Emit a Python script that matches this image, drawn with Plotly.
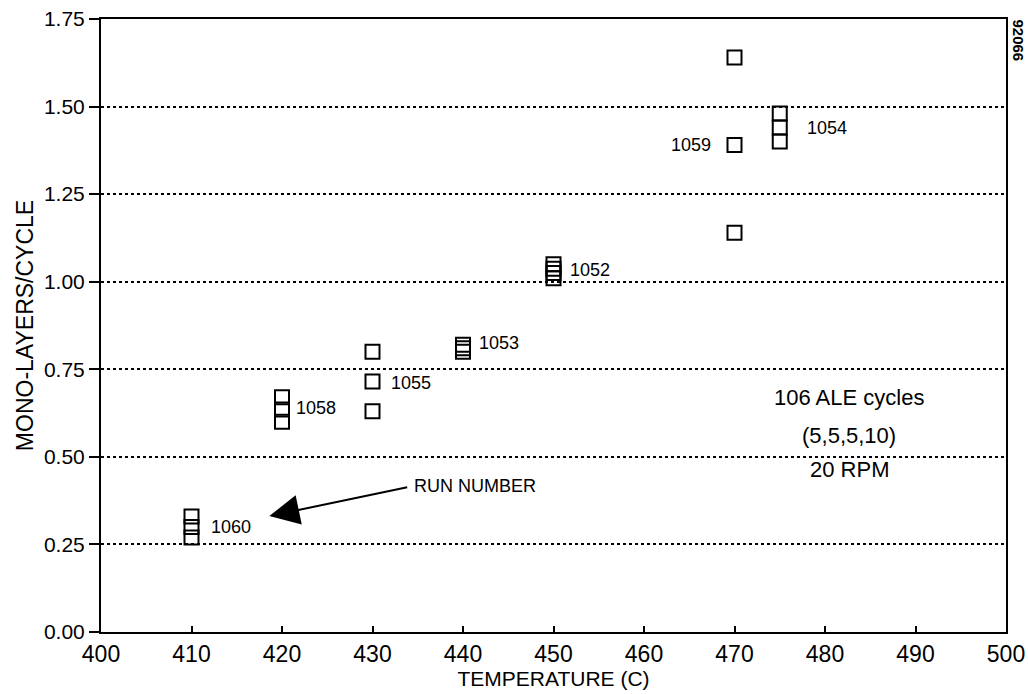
import plotly.graph_objects as go

# ---- data ----
run_1060_t = [410, 410, 410]
run_1060_v = [0.33, 0.30, 0.27]
run_1058_t = [420, 420, 420]
run_1058_v = [0.67, 0.635, 0.60]
run_1055_t = [430, 430, 430]
run_1055_v = [0.80, 0.715, 0.63]
run_1053_t = [440, 440, 440]
run_1053_v = [0.80, 0.81, 0.82]
run_1052_t = [450, 450, 450, 450]
run_1052_v = [1.01, 1.025, 1.037, 1.05]
run_1059_t = [470, 470, 470]
run_1059_v = [1.64, 1.39, 1.14]
run_1054_t = [475, 475, 475]
run_1054_v = [1.48, 1.44, 1.40]

runs = [
    ("1060", run_1060_t, run_1060_v),
    ("1058", run_1058_t, run_1058_v),
    ("1055", run_1055_t, run_1055_v),
    ("1053", run_1053_t, run_1053_v),
    ("1052", run_1052_t, run_1052_v),
    ("1059", run_1059_t, run_1059_v),
    ("1054", run_1054_t, run_1054_v),
]

# label placement: (y value, xanchor, xshift px)
label_place = {
    "1060": (0.30, "left", 17),
    "1058": (0.64, "left", 12),
    "1055": (0.71, "left", 16),
    "1053": (0.825, "left", 14),
    "1052": (1.033, "left", 14),
    "1059": (1.39, "right", -22),
    "1054": (1.44, "left", 25),
}

x_ticks = [400, 410, 420, 430, 440, 450, 460, 470, 480, 490, 500]
y_ticks = [0.00, 0.25, 0.50, 0.75, 1.00, 1.25, 1.50, 1.75]

FONT = "Liberation Sans, Arial, sans-serif"

fig = go.Figure()
for name, t, v in runs:
    fig.add_trace(go.Scatter(
        x=t, y=v, mode="markers", name=name, showlegend=False,
        marker=dict(symbol="square-open", size=14, color="black",
                    line=dict(color="black", width=2)),
        cliponaxis=False,
    ))

annotations = []
for name, t, v in runs:
    ly, xa, xs = label_place[name]
    annotations.append(dict(
        x=t[0], y=ly, xref="x", yref="y", text=name, showarrow=False,
        xanchor=xa, yanchor="middle", xshift=xs,
        font=dict(family=FONT, size=18, color="black"),
    ))

# run number pointer
annotations.append(dict(
    x=418.6, y=0.331, ax=434.0, ay=0.414, xref="x", yref="y",
    axref="x", ayref="y", text="", showarrow=True,
    arrowhead=2, arrowsize=3, arrowwidth=2, arrowcolor="black",
))
annotations.append(dict(
    x=434.4, y=0.417, xref="x", yref="y", text="RUN NUMBER", showarrow=False,
    xanchor="left", yanchor="middle",
    font=dict(family=FONT, size=18, color="black"),
))
# conditions note
for txt, yy in [("106 ALE cycles", 0.67), ("(5,5,5,10)", 0.56), ("20 RPM", 0.465)]:
    annotations.append(dict(
        x=482.7, y=yy, xref="x", yref="y", text=txt, showarrow=False,
        xanchor="center", yanchor="middle",
        font=dict(family=FONT, size=22, color="black"),
    ))
annotations.append(dict(
    x=1.0, y=1.0, xref="paper", yref="paper", text="<b>92066</b>", showarrow=False,
    textangle=90, xanchor="left", yanchor="top", xshift=2, yshift=2,
    font=dict(family=FONT, size=15, color="black"),
))

fig.update_layout(
    width=1028, height=694,
    margin=dict(l=101, r=22, t=19, b=62),
    paper_bgcolor="white", plot_bgcolor="white",
    font=dict(family=FONT, color="black"),
    annotations=annotations,
    xaxis=dict(
        range=[400, 500], tickmode="array", tickvals=x_ticks,
        ticktext=[str(t) for t in x_ticks], automargin=False,
        ticks="inside", ticklen=6, tickwidth=2, tickcolor="black",
        showgrid=False, zeroline=False,
        showline=True, linecolor="black", linewidth=2, mirror=True,
        tickfont=dict(family=FONT, size=23, color="black"),
        title=dict(text="TEMPERATURE (C)", standoff=0,
                   font=dict(family=FONT, size=21, color="black")),
    ),
    yaxis=dict(
        range=[0, 1.75], tickmode="array", tickvals=y_ticks,
        ticktext=["%.2f" % t for t in y_ticks], automargin=False,
        ticks="outside", ticklen=10, tickwidth=2, tickcolor="black",
        showgrid=True, gridcolor="black", gridwidth=2, griddash="dot",
        zeroline=False,
        showline=True, linecolor="black", linewidth=2, mirror=True,
        tickfont=dict(family=FONT, size=21, color="black"),
        title=dict(text="MONO-LAYERS/CYCLE", standoff=4,
                   font=dict(family=FONT, size=23, color="black")),
    ),
)

fig.write_html("out.html")
